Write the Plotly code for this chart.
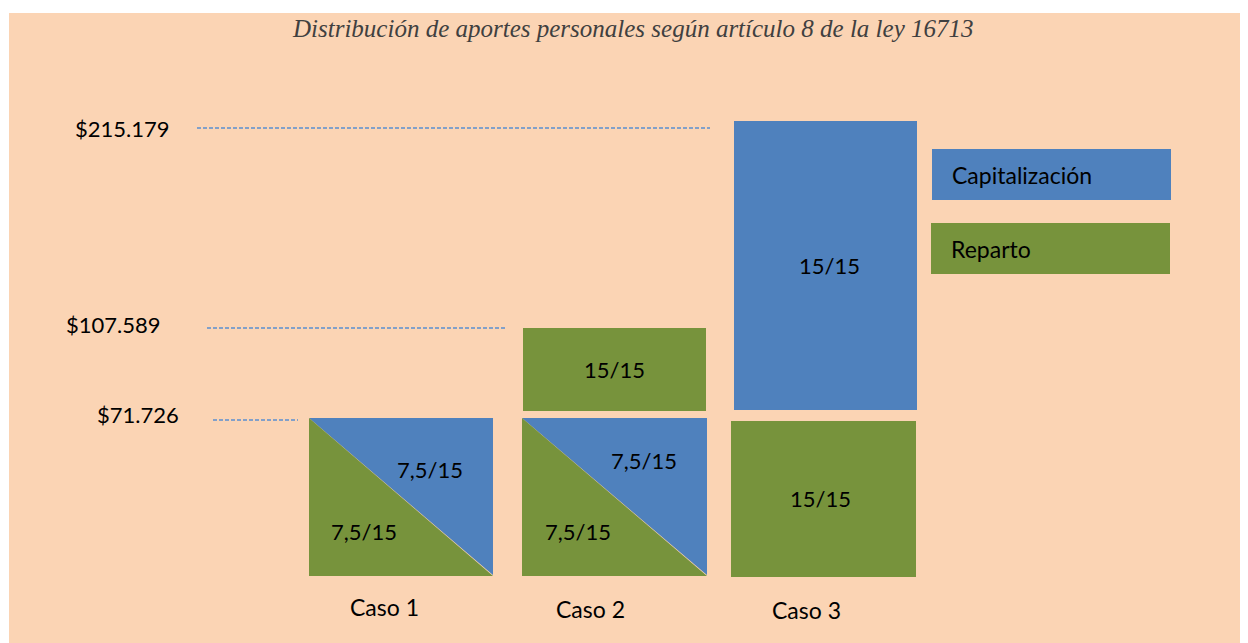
import plotly.graph_objects as go

# ---------------- data ----------------
title_text = "Distribución de aportes personales según artículo 8 de la ley 16713"
cases = ["Caso 1", "Caso 2", "Caso 3"]
salary_levels = [71726, 107589, 215179]
salary_labels = ["$71.726", "$107.589", "$215.179"]
series_names = ["Capitalización", "Reparto"]
# share of the first tier (up to $71.726) going to each regime, per case
tier1_capitalizacion = ["7,5/15", "7,5/15", ""]
tier1_reparto = ["7,5/15", "7,5/15", "15/15"]
# second tier (71.726 - 107.589) -> reparto in case 2
tier2_reparto = ["", "15/15", ""]
# top tier (above 107.589) -> capitalización in case 3
tier3_capitalizacion = ["", "", "15/15"]

# ---------------- layout / style ----------------
W, H = 1248, 643
OFF = 8  # page body margin
BLUE = "#4F81BD"
GREEN = "#77933C"
PEACH = "#FBD4B4"
DASH = "#5B8ED0"
FONT = "Lato"

case_boxes = {0: (309, 493), 1: (522, 707), 2: (731, 916)}
level_px = {71726: 418, 107589: 328, 215179: 121}
base_px = 575

fig = go.Figure()


def poly(xs, ys, color):
    fig.add_trace(go.Scatter(x=xs + [xs[0]], y=ys + [ys[0]], mode="lines", fill="toself",
                             fillcolor=color, line=dict(width=0, color=color),
                             hoverinfo="skip", showlegend=False))


def label(x, y, text, size=22, color="black", anchor="center", family=FONT, italic=False):
    fig.add_annotation(x=x, y=y, text=text, showarrow=False, xanchor=anchor, yanchor="middle",
                       font=dict(family=family, size=size, color=color,
                                 style="italic" if italic else "normal"))


# background
fig.add_shape(type="rect", x0=9, x1=W + 2, y0=13, y1=H + 2, fillcolor=PEACH,
              line=dict(width=0), layer="below")

for i in range(3):
    x0, x1 = case_boxes[i]
    if tier1_capitalizacion[i]:
        top = level_px[salary_levels[0]]
        poly([x0, x1, x1], [top, top, base_px], BLUE)
        poly([x0, x1, x0], [top, base_px + 1, base_px + 1], GREEN)
        label(x0 + 0.66 * (x1 - x0), top + (0.33 if i == 0 else 0.27) * (base_px - top),
              tier1_capitalizacion[i])
        label(x0 + 0.30 * (x1 - x0), top + 0.72 * (base_px - top), tier1_reparto[i])
    else:
        top = level_px[salary_levels[0]] + 3
        poly([x0, x1, x1, x0], [top, top, base_px + 2, base_px + 2], GREEN)
        label((x0 + x1) / 2 - 3, (top + base_px) / 2, tier1_reparto[i])

x0, x1 = case_boxes[1]
if tier2_reparto[1]:
    t, b = level_px[salary_levels[1]], level_px[salary_levels[0]] - 7
    poly([x0 + 1, x1 - 1, x1 - 1, x0 + 1], [t, t, b, b], GREEN)
    label((x0 + x1) / 2, (t + b) / 2, tier2_reparto[1])

x0, x1 = case_boxes[2]
if tier3_capitalizacion[2]:
    t, b = level_px[salary_levels[2]], level_px[salary_levels[0]] - 8
    poly([x0 + 3, x1 + 1, x1 + 1, x0 + 3], [t, t, b, b], BLUE)
    label((x0 + x1) / 2 + 6, 265, tier3_capitalizacion[2])

level_label_x = {71726: (97, 213, 298, 420, 414),
                 107589: (66, 207, 505, 328, 324),
                 215179: (75, 197, 710, 128, 128)}
for val, txt in zip(salary_levels, salary_labels):
    lx, dx0, dx1, dy, ty = level_label_x[val]
    label(lx - 2, ty, txt, size=22, anchor="left")
    fig.add_trace(go.Scatter(x=[dx0, dx1], y=[dy, dy], mode="lines",
                             line=dict(color=DASH, width=1.6, dash="4px,2px"),
                             hoverinfo="skip", showlegend=False))

case_label_pos = [(384, 607), (590, 609), (806, 610)]
for name, (cx, cy) in zip(cases, case_label_pos):
    label(cx, cy, name, size=23)

legend_boxes = [(932, 1171, 149, 200, BLUE), (931, 1170, 223, 274, GREEN)]
for name, (a, b, t, btm, col) in zip(series_names, legend_boxes):
    poly([a, b, b, a], [t, t, btm, btm], col)
    label(a + 18, (t + btm) / 2, name, size=23, anchor="left")

label(632, 28, title_text, size=25, color="#404040", family="Liberation Serif", italic=True)

# figure sized to fill the viewport after the page's 8px body margin
FW, FH = W - OFF, H - OFF
fig.update_layout(
    width=FW, height=FH, margin=dict(l=0, r=0, t=0, b=0),
    paper_bgcolor="white", plot_bgcolor="white",
    xaxis=dict(range=[OFF, OFF + FW], visible=False, fixedrange=True),
    yaxis=dict(range=[OFF + FH, OFF], visible=False, fixedrange=True),
    showlegend=False,
)

fig.write_html("out.html")
